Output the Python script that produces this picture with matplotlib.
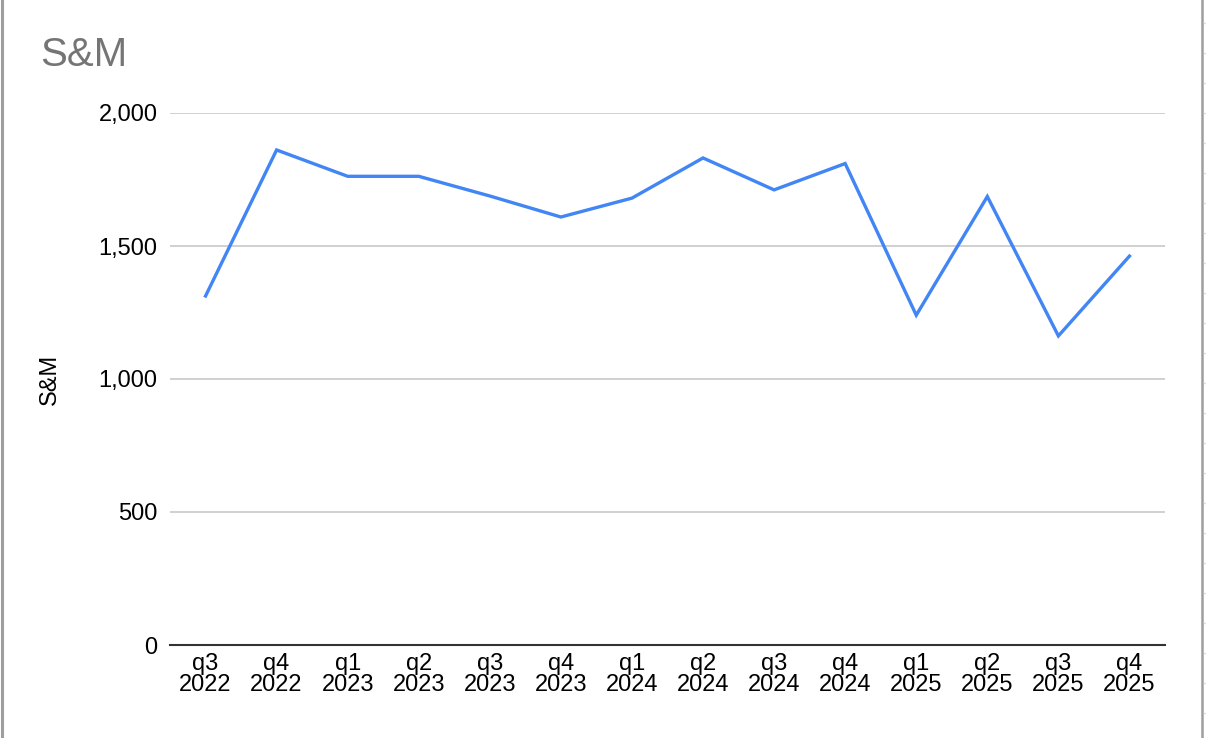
import matplotlib.pyplot as plt
from matplotlib.lines import Line2D
from matplotlib.ticker import FuncFormatter

plt.rcParams['font.family'] = ['Liberation Sans', 'DejaVu Sans']

# quarters and values
quarters = ["q3", "q4", "q1", "q2", "q3", "q4", "q1", "q2", "q3", "q4", "q1", "q2", "q3", "q4"]
years = ["2022", "2022", "2023", "2023", "2023", "2023", "2024", "2024", "2024", "2024",
         "2025", "2025", "2025", "2025"]
sm_values = [1312, 1861, 1762, 1762, 1688, 1609, 1680, 1831, 1711, 1810, 1240, 1686, 1162, 1462]

labels = [f"{q}\n{y}" for q, y in zip(quarters, years)]
x = list(range(len(sm_values)))

W, H = 1206, 738
fig = plt.figure(figsize=(W / 100, H / 100), dpi=100)
ax = fig.add_axes([170 / W, 1 - 645 / H, (1165 - 170) / W, (645 - 113) / H])

ax.plot(x, sm_values, color="#4285F4", lw=2.4, solid_joinstyle="miter")

ax.set_xlim(-0.5, len(x) - 0.5)
ax.set_ylim(0, 2000)
ax.set_yticks([0, 500, 1000, 1500, 2000])
ax.yaxis.set_major_formatter(FuncFormatter(lambda v, p: f"{int(v):,}"))
ax.set_xticks(x)
ax.set_xticklabels(labels, linespacing=0.95)
ax.tick_params(axis="y", length=0, pad=9, labelsize=17, colors="#000000")
ax.tick_params(axis="x", length=0, pad=6, labelsize=17, colors="#000000")

ax.grid(axis="y", color="#c8c8c8", lw=1.2)
ax.set_axisbelow(True)
for s in ["top", "right", "left"]:
    ax.spines[s].set_visible(False)
ax.spines["bottom"].set_color("#333333")
ax.spines["bottom"].set_linewidth(1.5)
ax.spines["bottom"].set_zorder(3)

ax.set_ylabel("S&M", fontsize=17)
ax.yaxis.set_label_coords(-109 / (1165 - 170), 0.5)

fig.text(40 / W, 1 - 55 / H, "S&M", fontsize=29, color="#757575", va="center", ha="left")

# sheet borders around the chart
fig.add_artist(Line2D([2 / W, 2 / W], [0, 1], color="#9e9e9e", lw=2.2, transform=fig.transFigure))
fig.add_artist(Line2D([1202 / W, 1202 / W], [0, 1], color="#9e9e9e", lw=1.8, transform=fig.transFigure))
for yy in range(23, H, 30):
    fig.add_artist(Line2D([1204 / W, 1], [1 - yy / H, 1 - yy / H], color="#dddddd", lw=1,
                          transform=fig.transFigure))

fig.savefig("out.png", dpi=100)
